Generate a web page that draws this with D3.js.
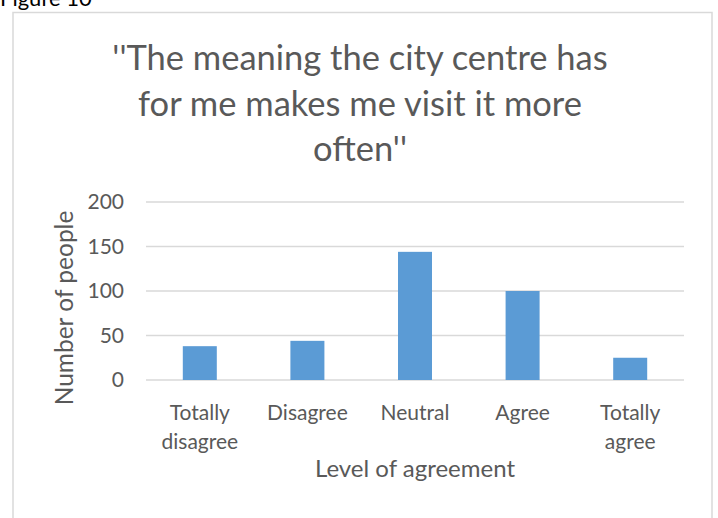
<!DOCTYPE html>
<html>
<head>
<meta charset="utf-8">
<script src="https://cdn.jsdelivr.net/npm/d3@7"></script>
<style>
  body { margin: 0; background: #fff; }
  text { font-family: Lato, "Open Sans", sans-serif; }
</style>
</head>
<body>
<div id="chart"></div>
<script>
// data
var categories = ["Totally disagree", "Disagree", "Neutral", "Agree", "Totally agree"];
var counts = [38, 44, 144, 100, 25];
var yTicks = [0, 50, 100, 150, 200];
var titleLines = ["''The meaning the city centre has", "for me makes me visit it more", "often''"];

var width = 718,
  height = 518;

var svg = d3.select("#chart")
  .append("svg")
  .attr("width", width)
  .attr("height", height);

// figure caption, cut off at the top like in the source
svg.append("text")
  .attr("x", 0)
  .attr("y", 6)
  .attr("font-size", "22px")
  .attr("fill", "#000")
  .text("Figure 10");

// chart frame
svg.append("rect")
  .attr("x", 13)
  .attr("y", 12.5)
  .attr("width", 699)
  .attr("height", 520)
  .attr("fill", "#fff")
  .attr("stroke", "#d9d9d9")
  .attr("stroke-width", 1.5);

// scales
var x = d3.scaleBand()
  .domain(categories)
  .range([146, 684])
  .paddingInner(0.684)
  .paddingOuter(0.342);

var y = d3.scaleLinear()
  .domain([0, 200])
  .range([380, 202]);

// gridlines
svg.append("g")
  .selectAll("line")
  .data(yTicks)
  .enter().append("line")
  .attr("x1", 146)
  .attr("x2", 684)
  .attr("y1", function(d) { return y(d); })
  .attr("y2", function(d) { return y(d); })
  .attr("stroke", "#d9d9d9")
  .attr("stroke-width", 1.5);

// y axis labels
var yAxis = svg.append("g")
  .attr("transform", "translate(124,0)")
  .call(d3.axisLeft(y).tickValues(yTicks).tickSize(0).tickPadding(0));
yAxis.select(".domain").remove();
yAxis.selectAll("text")
  .attr("font-size", "21px")
  .attr("fill", "#595959")
  .attr("font-family", "Lato, 'Open Sans', sans-serif");

// bars
svg.append("g")
  .selectAll("rect")
  .data(counts)
  .enter().append("rect")
  .attr("x", function(d, i) { return x(categories[i]); })
  .attr("y", function(d) { return y(d); })
  .attr("width", x.bandwidth())
  .attr("height", function(d) { return y(0) - y(d); })
  .attr("fill", "#5b9bd5");

// x axis labels (wrapped on spaces)
var xAxis = svg.append("g")
  .attr("transform", "translate(0,380)")
  .call(d3.axisBottom(x).tickSize(0).tickPadding(0));
xAxis.select(".domain").remove();
xAxis.selectAll("text").each(function(d) {
  var t = d3.select(this).text("")
    .attr("y", 0)
    .attr("dy", null)
    .attr("font-size", "21px")
    .attr("fill", "#595959")
    .attr("font-family", "Lato, 'Open Sans', sans-serif");
  d.split(" ").forEach(function(w, i) {
    t.append("tspan")
      .attr("x", 0)
      .attr("y", 40 + i * 29)
      .text(w);
  });
});

// axis titles
svg.append("text")
  .attr("x", 415)
  .attr("y", 477)
  .attr("text-anchor", "middle")
  .attr("font-size", "24px")
  .attr("fill", "#595959")
  .text("Level of agreement");

svg.append("text")
  .attr("transform", "translate(73,308) rotate(-90)")
  .attr("text-anchor", "middle")
  .attr("font-size", "24.5px")
  .attr("fill", "#595959")
  .text("Number of people");

// title
svg.append("g")
  .selectAll("text")
  .data(titleLines)
  .enter().append("text")
  .attr("x", 360)
  .attr("y", function(d, i) { return 70 + i * 45.5; })
  .attr("text-anchor", "middle")
  .attr("font-size", "34.5px")
  .attr("fill", "#595959")
  .text(function(d) { return d; });
</script>
</body>
</html>
